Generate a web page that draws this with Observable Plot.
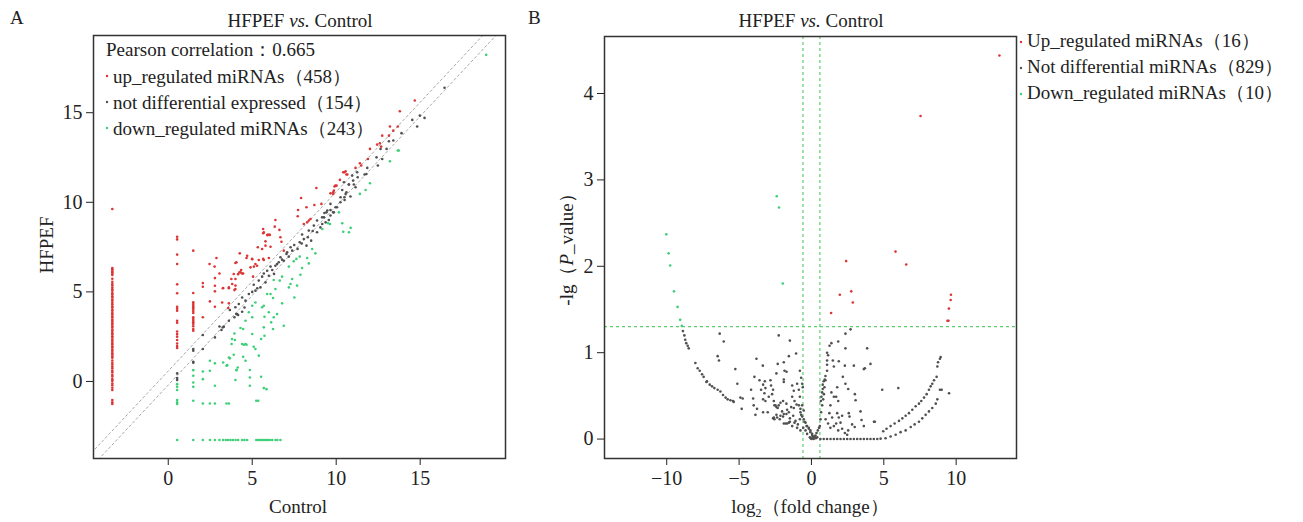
<!DOCTYPE html>
<html><head><meta charset="utf-8">
<script src="https://cdn.jsdelivr.net/npm/d3@7"></script>
<script src="https://cdn.jsdelivr.net/npm/@observablehq/plot@0.6"></script>
<style>
html,body{margin:0;padding:0;background:#fff;overflow:hidden;}
#wrap{position:relative;width:1303px;height:522px;font-family:"Liberation Serif","Times New Roman",serif;color:#222;}
#wrap > div.panel{position:absolute;top:0;}
</style></head>
<body><div id="wrap"><div class="panel" id="pa" style="left:0"></div><div class="panel" id="pb" style="left:520px"></div></div>
<script>
// ---------------- Panel A data (Control vs HFPEF) ----------------
const aTicks = [0, 5, 10, 15];
const aDiagOffsets = [0.585, -0.2];
const aUpColumnX = -3.33;
const aUpColumnY = [9.63,6.33,6.26,6.17,6.10,6.01,5.94,5.73,5.56,5.44,5.36,5.24,5.15,5.06,4.94,4.87,4.76,4.69,4.57,4.50,4.39,4.31,4.20,4.13,4.01,3.94,3.83,3.75,3.64,3.57,3.45,3.38,3.27,3.20,3.08,3.01,2.90,2.82,2.71,2.64,2.52,2.45,2.34,2.26,2.15,2.08,1.96,1.89,1.78,1.70,1.59,1.52,1.40,1.33,1.17,1.04,0.94,0.83,0.73,0.59,0.50,0.36,0.28,0.13,0.03,-0.11,-0.21,-0.35,-0.48,-1.04,-1.17,-1.26];
const aUp = [
 [0.53,8.08],[0.53,7.93],[0.53,7.08],[0.53,6.56],[0.53,5.42],[0.53,4.92],[0.53,4.17],[0.53,4.06],[0.53,3.95],[0.53,3.39],[0.53,3.28],[0.53,2.79],[0.53,2.65],[0.53,2.50],[0.53,2.31],[0.53,2.12],[0.53,1.98],[0.53,1.87],
 [1.49,7.30],[1.49,4.94],[1.49,4.42],[1.49,4.32],[1.49,4.23],[1.49,4.14],[1.49,4.05],[1.49,3.93],[1.49,3.82],[1.49,3.58],[1.49,3.49],[1.49,3.39],[1.49,3.30],[1.49,3.21],[1.49,3.08],[1.49,2.93],[1.49,2.83],
 [2.06,5.49],[2.06,5.29],[2.06,3.58],[2.46,6.56],[2.87,6.89],[2.76,6.41],[3.05,6.03],[2.78,5.77],[2.78,5.34],[3.25,5.20],[3.61,5.20],[2.78,5.03],[2.48,4.47],[2.78,4.17],[3.21,4.41],[3.57,4.10],
 [4.00,6.61],[4.26,7.15],[4.70,7.02],[5.00,6.82],[4.30,6.09],[4.40,6.03],[4.16,5.99],[4.00,5.72],[3.81,5.44],[4.00,5.16],[5.65,8.51],[5.69,8.32],[5.89,8.17],[5.99,8.19],[5.33,7.49],[5.79,7.58],[5.69,6.78],[5.10,6.41],[4.90,6.37],
 [10.49,11.68],[10.61,11.55],[9.95,10.93],[9.86,10.65],[9.82,10.47],[8.82,10.80],[7.91,10.24],[9.12,9.91],[8.70,9.85],[8.23,9.72],[7.73,9.57],[7.71,9.22],[8.47,9.07],[8.37,8.98],[8.27,8.88],[8.07,8.79],[6.38,9.01],[6.34,8.64],[5.65,8.27],[5.93,8.18],[6.05,8.18],[6.62,8.46],[6.68,8.05],[6.74,7.80],[5.79,7.82],[6.09,7.52],[5.59,7.39],[6.88,7.30],
 [4.66,6.89],[4.99,6.84],[5.19,6.56],[5.39,6.78],[5.65,6.84],[5.99,6.89],[4.06,6.65],[4.34,6.22],[4.24,6.09],[4.46,6.03],[3.90,6.00],[3.76,5.72],[5.29,6.46],[5.05,5.85],[4.00,5.35],[3.61,5.25],[3.27,5.22],[3.94,5.10],[3.61,4.36],
 [14.68,15.68],[13.79,15.08],[13.20,14.23],[13.67,14.23],[13.40,14.00],[13.14,13.72],[12.74,13.72],[12.44,13.22],[12.60,13.30],[12.68,13.11],[12.01,12.98],[11.89,12.42],[11.41,12.18],[11.49,12.05],[11.15,11.92],[10.56,11.73],[10.42,11.68],[10.66,11.55],[10.22,11.25],[10.02,10.93],[9.90,10.88],[9.82,10.56],[9.66,10.50]
];
const aNot = [
 [16.45,16.39],[14.53,14.60],[14.98,14.84],[15.26,14.71],[14.82,14.23],[13.89,13.86],[13.40,13.45],[13.14,13.41],[13.00,12.98],[12.64,12.98],[12.40,12.51],[12.74,12.42],[12.48,12.05],[11.85,11.92],[11.69,11.55],[11.25,11.68],[10.95,11.49],[11.05,10.99],[10.76,10.99],[10.46,11.12],[10.36,10.69],[10.56,10.47],[10.26,10.28],[10.50,10.13],[9.66,9.91],[9.96,9.72],[9.47,9.54],[9.82,9.44],[9.27,9.16],[9.66,9.26],[9.37,8.88],[9.17,8.79],
 [11.80,11.58],[11.28,11.40],[11.01,11.21],[10.75,10.99],[11.15,10.84],[10.61,10.56],[10.85,10.32],[10.49,10.28],[10.25,10.00],[10.05,9.72],[9.66,9.57],[9.42,9.44],[9.86,9.44],[9.16,9.16],[9.56,9.01],[8.86,8.98],[8.67,8.70],[9.06,8.60],[8.86,8.33],[8.37,8.42],[7.97,8.20],[8.31,8.05],[8.51,7.86],[8.07,7.95],[7.83,7.77],[8.23,7.58],[7.28,7.49],[7.38,7.30],[7.04,7.12],[7.18,6.97],[6.68,6.93],[6.88,6.74],[6.58,6.65],[6.38,6.46],[6.09,6.41],[6.19,6.22],[5.89,6.18],[5.69,6.03],[5.99,5.90],[5.59,5.85],[5.39,5.63],[5.79,5.53],[5.09,5.40],[5.49,5.25],[5.19,5.07],[4.80,4.88],[4.40,4.69],[4.60,4.51],[4.20,4.32],[4.00,4.14],[3.67,3.99],[4.10,3.76],[3.94,3.58],[3.61,3.39],[3.31,3.06],[3.17,2.87],[7.08,7.21],
 [6.48,6.55],[6.78,6.80],[7.50,7.62],[7.70,7.40],[5.30,5.20],[5.00,5.00],[6.30,6.00],[7.95,7.70],[8.60,8.40],[9.30,9.40],
 [3.05,3.07],[3.25,3.02],[4.05,3.76],[4.16,3.71],[4.40,3.89],[4.54,4.13],[2.78,2.46],[2.06,2.59],[1.49,1.81],[1.49,1.71],[2.06,1.81],[1.49,1.10],[1.49,1.05],[0.53,0.45],[0.53,0.19],[0.53,0.08]
];
const aDown = [
 [18.93,18.23],[13.67,12.89],[13.73,12.89],[13.20,12.29],[12.01,11.06],[11.75,10.69],[11.41,10.47],[10.16,9.44],[9.51,8.83],[9.63,8.79],[10.36,8.83],[10.86,8.57],[10.42,8.36],[10.76,8.33],[9.17,8.51],
 [8.57,7.39],[8.76,7.15],[8.27,6.89],[7.83,6.97],[7.63,6.84],[7.47,6.71],[7.18,6.41],[8.37,6.59],[7.97,6.33],[7.87,5.96],[7.38,5.72],[7.28,5.44],[7.18,5.25],[7.67,5.35],[7.51,4.69],[6.78,5.85],[6.64,5.63],[6.28,5.66],[6.38,5.16],[5.89,4.88],[6.09,4.88],[6.24,4.66],[6.78,4.36],[5.69,4.23],[5.59,4.14],[5.99,3.86],[6.28,3.58],[6.48,3.76],[5.73,3.61],[5.19,4.41],[5.00,4.23],[4.80,3.86],[5.00,3.58],[4.60,3.39],[4.30,2.98],[4.46,2.93],[6.13,3.30],[6.88,3.11],[5.69,3.02],[6.24,2.93],[5.73,2.55],[5.53,2.37],[5.00,2.65],[3.94,2.68],[3.80,2.37],[4.40,2.09],[4.50,2.05],[4.66,2.05],[5.09,1.94],[5.19,1.81],[5.39,1.44],[3.90,1.49],[3.61,1.34],[3.67,1.29],[4.46,1.38],[4.60,1.16],[3.27,1.06],[3.47,0.88],[4.14,0.78],[4.06,0.64],[4.86,0.64],[5.53,0.26],[4.00,0.08],[4.86,-0.24],[5.69,-0.37],[5.85,-0.43],
 [0.53,-0.15],[0.53,-0.30],[0.53,-0.48],[0.53,-1.04],[0.53,-1.17],[0.53,-1.26],[1.49,0.63],[1.49,0.32],[1.49,-0.06],[1.49,-0.30],[1.49,-1.08],[2.06,0.56],[2.06,0.13],[2.48,1.16],[2.48,0.60],[2.78,1.01],[2.78,-0.24],[3.51,0.91],[4.07,0.63],[3.77,2.09],[3.97,2.31],[4.60,2.09],[4.86,0.22],[5.24,-1.08],[5.36,-1.08],[2.06,-1.23],[2.48,-1.23],[2.78,-1.23],[3.47,-1.23],[3.61,-1.23]
];
const aDownFloorY = -3.27;
const aDownFloorX = [0.53,1.49,2.06,2.48,2.78,3.05,3.27,3.43,3.57,3.71,3.85,4.01,4.16,4.40,4.54,4.70,5.24,5.34,5.43,5.53,5.63,5.73,5.83,5.93,6.05,6.19,6.39,6.50,6.68];
const aLegend = ["up_regulated miRNAs（458）", "not differential expressed（154）", "down_regulated miRNAs（243）"];
const aPearson = "Pearson correlation：0.665";

// ---------------- Panel B data (volcano) ----------------
const bXTicks = [-10, -5, 0, 5, 10];
const bYTicks = [0, 1, 2, 3, 4];
const bFcCut = [-0.585, 0.585];
const bPCut = [1.301];
const bUp = [[12.99,4.44],[7.54,3.74],[2.40,2.06],[5.81,2.17],[6.55,2.02],[1.96,1.67],[2.75,1.71],[2.86,1.58],[1.36,1.46],[9.64,1.67],[9.62,1.61],[9.50,1.51],[9.40,1.37],[9.47,1.37]];
const bDown = [[-10.03,2.37],[-9.87,2.15],[-9.76,2.01],[-9.50,1.71],[-9.25,1.53],[-9.07,1.38],[-8.96,1.31],[-2.40,2.81],[-2.24,2.68],[-1.98,1.80]];
const bNot = [
 [-8.88,1.25],[-8.78,1.20],[-8.72,1.15],[-8.65,1.11],[-8.55,1.08],[-8.48,1.05],[-8.02,0.88],[-7.86,0.82],[-7.72,0.79],[-7.56,0.75],[-7.45,0.72],[-7.26,0.66],[-7.22,0.67],[-7.03,0.63],[-6.87,0.61],[-6.71,0.59],[-6.48,0.57],[-6.29,0.55],[-6.11,0.51],[-5.93,0.48],[-5.79,0.46],[-5.60,0.45],[-5.42,0.44],[-5.37,0.43],
 [-6.34,1.22],[-6.06,1.13],[-6.48,0.96],[-6.39,0.91],[-5.26,0.81],[-5.12,0.64],[-4.91,0.48],[-4.75,0.47],[-4.82,0.35],[-4.17,0.57],[-4.03,0.47],[-3.99,0.39],[-3.87,0.28],[-3.76,0.35],[-3.94,0.72],[-3.80,0.93],[-3.59,0.68],[-3.36,0.85],[-3.22,0.67],[-3.34,0.63],[-3.18,0.59],[-3.48,0.57],[-3.25,0.53],[-3.34,0.46],[-3.18,0.44],[-3.34,0.31],[-3.02,0.31],[-2.83,0.68],[-2.79,0.62],[-2.65,0.57],[-2.72,0.52],[-2.95,0.49],[-2.33,0.87],[-2.42,0.76],[-2.26,1.20],[-1.91,0.89],[-1.86,0.79],[-1.72,0.78],[-1.91,0.69],[-1.91,0.66],[-1.56,0.96],[-1.49,1.14],[-1.06,0.99],
 [-2.60,0.44],[-2.56,0.39],[-2.42,0.37],[-2.26,0.39],[-2.14,0.42],[-1.96,0.44],[-2.03,0.32],[-1.91,0.29],[-1.68,0.34],[-1.56,0.31],[-1.40,0.37],[-2.37,0.25],[-2.14,0.27],[-2.65,0.24],[-1.79,0.18],[-1.68,0.18],[-1.49,0.20],[-1.33,0.62],[-1.22,0.56],[-0.99,0.64],[-0.87,0.57],[-0.80,0.49],[-1.33,0.49],[-1.17,0.44],[-1.03,0.40],[-0.87,0.39],[-0.76,0.35],[-0.80,0.79],[-0.71,0.71],[-0.64,0.64],[-0.60,0.60],
 [-0.76,0.31],[-0.64,0.26],[-0.53,0.23],[-0.41,0.19],[-0.30,0.15],[-0.18,0.13],[-0.07,0.10],[0.05,0.06],[0.17,0.02],
 [-2.49,0.39],[-2.33,0.36],[-1.73,0.41],[-1.22,0.36],[-2.60,0.25],[-2.42,0.28],[-2.19,0.23],[-1.96,0.26],[-1.73,0.29],[-1.49,0.24],[-1.26,0.27],[-1.10,0.21],[-1.91,0.18],[-0.94,0.17],[-0.80,0.23],[-0.71,0.28],[-0.64,0.39],[-0.53,0.33],[-0.48,0.20],[-0.34,0.15],[-0.18,0.12],[-0.07,0.08],[0.05,0.04],[-0.30,0.06],[-0.11,0.02],[-0.41,0.10],[-0.57,0.13],[-0.76,0.10],[-0.99,0.13],[-1.17,0.19],[-1.33,0.15],[-1.56,0.19],[-2.56,0.23],
 [0.00,0.00],[0.08,0.01],[0.15,0.00],[-0.05,0.01],[0.22,0.03],[0.28,0.04],[0.35,0.07],[0.44,0.10],[0.52,0.13],[0.58,0.15],[0.63,0.23],[0.67,0.31],[0.74,0.39],[0.81,0.46],[0.86,0.52],[0.90,0.60],[0.97,0.68],[0.30,0.01],[0.40,0.02],[0.12,0.03],
 [2.70,1.27],[2.35,1.22],[1.85,1.13],[1.38,1.11],[1.25,1.08],[1.08,1.00],[1.15,0.97],[1.08,0.91],[1.08,0.86],[1.08,0.79],[2.35,1.05],[3.85,1.05],[1.48,0.91],[1.89,0.90],[1.55,0.84],[2.31,0.85],[2.93,0.85],[4.08,0.87],[3.69,0.82],[3.62,0.81],[2.17,0.72],[2.35,0.64],[2.54,0.58],[0.97,0.73],[0.92,0.69],[0.85,0.67],[0.78,0.63],[0.78,0.58],[0.74,0.54],[0.69,0.49],[0.65,0.44],[1.38,0.54],[1.55,0.49],[1.78,0.60],[1.85,0.44],[1.71,0.49],[3.00,0.52],[3.05,0.45],[4.89,0.57],[6.00,0.59],[3.39,0.32],[3.46,0.22],[2.58,0.30],[2.63,0.26],
 [1.31,0.39],[1.24,0.30],[1.43,0.25],[1.78,0.30],[1.89,0.25],[2.01,0.19],[2.12,0.27],[0.98,0.23],[1.15,0.18],[1.31,0.13],[1.55,0.15],[1.71,0.18],[1.85,0.10],[2.12,0.12],[2.31,0.07],[2.47,0.05],[2.54,0.10],[2.81,0.17],[2.99,0.14],[3.62,0.15],[4.38,0.20],[4.32,0.20],
 [8.93,0.95],[8.88,0.93],[8.75,0.89],[8.70,0.84],[8.65,0.72],[8.47,0.68],[8.35,0.64],[8.24,0.61],[8.12,0.57],[7.96,0.52],[7.78,0.48],[7.59,0.44],[7.43,0.41],[7.20,0.38],[6.97,0.34],[6.74,0.30],[6.51,0.27],[6.28,0.24],[6.05,0.21],[5.75,0.18],[5.47,0.15],[5.19,0.12],[4.96,0.09],
 [8.70,0.46],[8.59,0.41],[8.35,0.36],[8.12,0.32],[7.89,0.28],[7.66,0.24],[7.43,0.20],[7.13,0.17],[6.86,0.14],[6.51,0.10],[6.16,0.08],[5.82,0.05],[5.47,0.03],[5.12,0.01],[8.88,0.57],[9.51,0.53],[9.00,0.57],
 [0.62,0],[0.85,0],[1.08,0],[1.32,0],[1.55,0],[1.78,0],[2.01,0],[2.24,0],[2.47,0],[2.70,0],[2.93,0],[3.16,0],[3.39,0],[3.62,0],[3.85,0],[4.08,0],[4.31,0],[4.55,0],[4.78,0.005]
];
const bLegend = ["Up_regulated miRNAs（16）", "Not differential miRNAs（829）", "Down_regulated miRNAs（10）"];

// ---------------- styling ----------------
const RED = "#dc3535", GRAY = "#505050", GREEN = "#3ecf78";
const FONT = "'Liberation Serif','Times New Roman',serif";
const toObj = arr => arr.map(([x, y]) => ({x, y}));
const intFmt = d3.format("d");

const aUpAll = toObj(aUp).concat(aUpColumnY.map(y => ({x: aUpColumnX, y})));
const aDownAll = toObj(aDown).concat(aDownFloorX.map(x => ({x, y: aDownFloorY})));
const diagLines = aDiagOffsets.map(o => ({x1: -6, y1: -6 + o, x2: 22, y2: 22 + o}));

const plotA = Plot.plot({
  width: 520, height: 522,
  marginLeft: 93, marginRight: 15, marginTop: 35, marginBottom: 64,
  style: {fontFamily: FONT, fontSize: "20px", color: "#222", background: "transparent", overflow: "visible"},
  x: {domain: [-4.45, 20.08], ticks: aTicks, tickSize: 7, tickPadding: 5, tickFormat: intFmt, label: null},
  y: {domain: [-4.30, 19.31], ticks: aTicks, tickSize: 7, tickPadding: 4, tickFormat: intFmt, label: null},
  marks: [
    Plot.link(diagLines, {x1: "x1", y1: "y1", x2: "x2", y2: "y2", stroke: "#a8a8a8", strokeWidth: 1, strokeDasharray: "3,2", clip: true}),
    Plot.dot(toObj(aNot), {x: "x", y: "y", r: 1.3, fill: GRAY}),
    Plot.dot(aUpAll, {x: "x", y: "y", r: 1.3, fill: RED}),
    Plot.dot(aDownAll, {x: "x", y: "y", r: 1.3, fill: GREEN}),
    Plot.frame({stroke: "#333", strokeWidth: 1.5})
  ]
});
document.getElementById("pa").appendChild(plotA);

const plotB = Plot.plot({
  width: 783, height: 522,
  marginLeft: 84, marginRight: 287, marginTop: 36, marginBottom: 64,
  style: {fontFamily: FONT, fontSize: "20px", color: "#222", background: "transparent", overflow: "visible"},
  x: {domain: [-14.3, 14.17], ticks: bXTicks, tickSize: 7, tickPadding: 5, tickFormat: d => d < 0 ? "\u2212" + Math.abs(d) : String(d), label: null},
  y: {domain: [-0.225, 4.66], ticks: bYTicks, tickSize: 7, tickPadding: 4, tickFormat: intFmt, label: null},
  marks: [
    Plot.ruleX(bFcCut, {stroke: "#5ccf6c", strokeWidth: 1.2, strokeDasharray: "3,3"}),
    Plot.ruleY(bPCut, {stroke: "#5ccf6c", strokeWidth: 1.2, strokeDasharray: "3,3"}),
    Plot.dot(toObj(bNot), {x: "x", y: "y", r: 1.3, fill: GRAY}),
    Plot.dot(toObj(bUp), {x: "x", y: "y", r: 1.3, fill: RED}),
    Plot.dot(toObj(bDown), {x: "x", y: "y", r: 1.3, fill: GREEN}),
    Plot.frame({stroke: "#333", strokeWidth: 1.5})
  ]
});
document.getElementById("pb").appendChild(plotB);

// ---------------- text overlay ----------------
const svg = d3.select("#wrap").append("svg")
  .attr("width", 1303).attr("height", 522)
  .style("position", "absolute").style("left", 0).style("top", 0)
  .style("pointer-events", "none")
  .attr("font-family", FONT).attr("fill", "#222");
function txt(x, y, anchor, size) {
  return svg.append("text").attr("x", x).attr("y", y).attr("text-anchor", anchor).attr("font-size", size);
}
txt(10, 24, "start", 19).text("A");
txt(528, 24, "start", 19).text("B");
[300, 811].forEach(cx => {
  const t = txt(cx, 27, "middle", 19);
  t.append("tspan").text("HFPEF ");
  t.append("tspan").attr("font-style", "italic").text("vs.");
  t.append("tspan").text(" Control");
});
// Panel A axis labels
txt(298, 513, "middle", 19).text("Control");
svg.append("text").attr("transform", "translate(53,245) rotate(-90)").attr("text-anchor", "middle").attr("font-size", 19).text("HFPEF");
// Panel A in-frame legend
txt(106, 56, "start", 19).text(aPearson);
const aColors = [RED, GRAY, GREEN];
aLegend.forEach((s, i) => {
  const base = 83 + i * 26;
  svg.append("circle").attr("cx", 107).attr("cy", base - 7).attr("r", 1.2).attr("fill", aColors[i]);
  txt(113, base, "start", 19).text(s);
});
// Panel B axis labels
{
  const t = txt(810, 513, "middle", 19);
  t.append("tspan").text("log");
  t.append("tspan").attr("font-size", 12).attr("dy", 4).text("2");
  t.append("tspan").attr("dy", -4).text("（fold change）");
}
{
  const t = svg.append("text").attr("transform", "translate(573,245) rotate(-90)").attr("text-anchor", "middle").attr("font-size", 19);
  t.append("tspan").text("-lg（");
  t.append("tspan").attr("font-style", "italic").text("P");
  t.append("tspan").text("_value）");
}
// Panel B legend
bLegend.forEach((s, i) => {
  const base = 47 + i * 26;
  svg.append("circle").attr("cx", 1021).attr("cy", base - 5).attr("r", 1.2).attr("fill", aColors[i]);
  txt(1027, base, "start", 19).text(s);
});
</script>
</body></html>
